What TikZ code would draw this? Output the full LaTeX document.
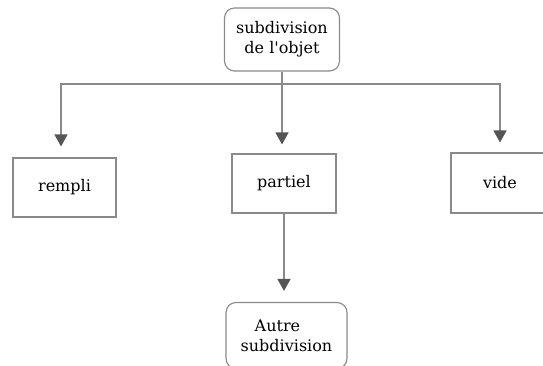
\documentclass[tikz,border=0pt]{standalone}
\usepackage{fontspec}
\setmainfont{DejaVu Serif}
\usetikzlibrary{arrows.meta}
\definecolor{edge}{HTML}{8A8A8A}
\definecolor{tip}{HTML}{555555}
\tikzset{
  box/.style={draw=edge, line width=1.1pt, fill=white, inner sep=0pt,
    font=\fontsize{16}{20}\selectfont},
  roundbox/.style={box, rounded corners=10pt},
  link/.style={draw=edge, line width=1.3pt},
  arr/.style={link, -{Triangle[width=13pt,length=12pt,fill=tip,color=tip]}},
}
\begin{document}
\begin{tikzpicture}[x=1pt,y=-1pt]
  \useasboundingbox (0,0) rectangle (543,366);
  \clip (0,0) rectangle (543,366);

  % nodes
  \node[roundbox, minimum width=115pt, minimum height=63pt, align=center]
    (top) at (282,39.5) {subdivision\\de l\textquotesingle objet};
  \node[box, minimum width=103pt, minimum height=59pt] (rempli) at (64.5,187.5) {rempli};
  \node[box, minimum width=104pt, minimum height=59pt] (partiel) at (284,183.5) {partiel};
  \node[box, minimum width=98pt, minimum height=60pt] (vide) at (500,183) {vide};
  \node[roundbox, minimum width=121pt, minimum height=66pt, align=left]
    (autre) at (286.5,335.5) {\hspace{14pt}Autre\\subdivision};

  % branching connectors
  \coordinate (bus) at (282,84);
  \draw[link] (top.south) -- (bus);
  \draw[arr, shorten >=11pt] (bus) -| ([xshift=-3.5pt]rempli.north);
  \draw[arr, shorten >=9pt] (bus) -- (bus |- partiel.north);
  \draw[arr, shorten >=10pt] (bus) -| (vide.north);
  \draw[arr, shorten >=11pt] (partiel.south) -- (autre.north -| partiel.south);
\end{tikzpicture}
\end{document}
